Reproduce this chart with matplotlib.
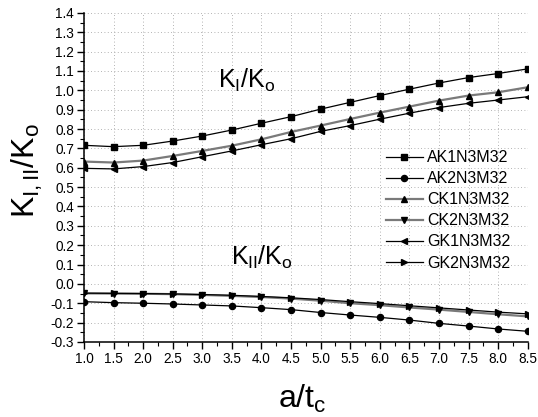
import numpy as np
import matplotlib
matplotlib.use("Agg")
import matplotlib.pyplot as plt
from matplotlib.ticker import MultipleLocator, FormatStrFormatter

plt.rcParams['font.family'] = ['Liberation Sans', 'DejaVu Sans']
plt.rcParams['mathtext.fontset'] = 'custom'
plt.rcParams['mathtext.rm'] = 'Liberation Sans'
plt.rcParams['mathtext.it'] = 'Liberation Sans'
plt.rcParams['mathtext.bf'] = 'Liberation Sans'

a_tc = [1.0, 1.5, 2.0, 2.5, 3.0, 3.5, 4.0, 4.5, 5.0, 5.5, 6.0, 6.5, 7.0, 7.5, 8.0, 8.5]

# mode I
ak1 = [0.716, 0.709, 0.716, 0.738, 0.764, 0.795, 0.830, 0.864, 0.903, 0.938, 0.973, 1.006, 1.038, 1.066, 1.087, 1.111]
ck1 = [0.632, 0.627, 0.637, 0.661, 0.687, 0.714, 0.747, 0.785, 0.818, 0.852, 0.885, 0.916, 0.947, 0.973, 0.990, 1.016]
gk1 = [0.597, 0.594, 0.606, 0.627, 0.657, 0.687, 0.719, 0.750, 0.788, 0.818, 0.851, 0.882, 0.911, 0.933, 0.950, 0.967]
# mode II
ak2 = [-0.092, -0.097, -0.100, -0.104, -0.109, -0.114, -0.123, -0.133, -0.148, -0.161, -0.173, -0.187, -0.204, -0.218, -0.233, -0.245]
ck2 = [-0.049, -0.050, -0.051, -0.053, -0.057, -0.062, -0.068, -0.076, -0.087, -0.100, -0.110, -0.122, -0.133, -0.145, -0.157, -0.168]
gk2 = [-0.048, -0.049, -0.050, -0.052, -0.055, -0.059, -0.065, -0.072, -0.081, -0.092, -0.102, -0.113, -0.124, -0.135, -0.146, -0.155]

series = [
    ("AK1N3M32", ak1, 's', 'black', 0.9),
    ("AK2N3M32", ak2, 'o', 'black', 0.9),
    ("CK1N3M32", ck1, '^', '#7a7a7a', 1.6),
    ("CK2N3M32", ck2, 'v', '#7a7a7a', 1.6),
    ("GK1N3M32", gk1, '<', 'black', 0.9),
    ("GK2N3M32", gk2, '>', 'black', 0.9),
]

fig = plt.figure(figsize=(5.38, 4.17), dpi=100)
ax = fig.add_axes([0.156, 0.180, 0.825, 0.789])

for name, vals, mk, col, lw in series:
    ax.plot(a_tc, vals, color=col, lw=lw, marker=mk, markersize=4.4,
            markerfacecolor='black', markeredgecolor='black', label=name)

ax.set_xlim(1.0, 8.5)
ax.set_ylim(-0.3, 1.4)
ax.xaxis.set_major_locator(MultipleLocator(0.5))
ax.xaxis.set_minor_locator(MultipleLocator(0.25))
ax.yaxis.set_major_locator(MultipleLocator(0.1))
ax.yaxis.set_minor_locator(MultipleLocator(0.05))
ax.xaxis.set_major_formatter(FormatStrFormatter('%.1f'))
ax.yaxis.set_major_formatter(FormatStrFormatter('%.1f'))
ax.tick_params(which='major', direction='out', length=5, width=1, labelsize=9.8, pad=2)
ax.tick_params(which='minor', direction='out', length=3, width=0.8)

ax.spines['top'].set_visible(False)
ax.spines['right'].set_visible(False)
ax.spines['left'].set_linewidth(1.1)
ax.spines['bottom'].set_linewidth(1.1)

ax.grid(True, which='major', color='#9a9a9a', linestyle=(0, (1, 3)), linewidth=0.6)
ax.set_axisbelow(True)

ax.set_ylabel(r'$\mathrm{K_{I,II}/K_o}$', fontsize=23)
ax.yaxis.set_label_coords(-0.088, 0.52)
ax.set_xlabel(r'$\mathrm{a/t_c}$', fontsize=23)
ax.xaxis.set_label_coords(0.493, -0.125)

ax.text(3.26, 1.012, r'$\mathrm{K_I/K_o}$', fontsize=18, ha='left', va='baseline')
ax.text(3.49, 0.098, r'$\mathrm{K_{II}/K_o}$', fontsize=18, ha='left', va='baseline')

ax.legend(loc='center left', bbox_to_anchor=(0.655, 0.40), frameon=False,
          fontsize=11.5, handlelength=2.3, handletextpad=0.3, labelspacing=0.38,
          borderpad=0.2)

fig.savefig('out.png', dpi=100)
